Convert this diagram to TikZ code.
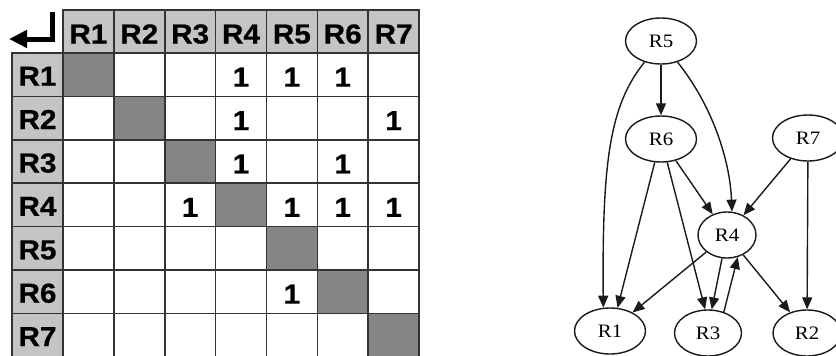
\documentclass[tikz,border=0pt]{standalone}
\usepackage{fontspec}
\setmainfont{Liberation Serif}
\newfontfamily\mxfont{Liberation Sans}[FakeStretch=1.08, BoldFeatures={FakeBold=0.6}]
\newfontfamily\gfont{Liberation Serif}[FakeStretch=1.1]
\usetikzlibrary{arrows.meta,shapes.geometric}
\definecolor{hdr}{HTML}{C4C4C4}
\definecolor{diag}{HTML}{858585}
\definecolor{gridc}{HTML}{333333}
\definecolor{edgec}{HTML}{1A1A1A}
\begin{document}
\begin{tikzpicture}[x=1pt,y=-1pt,
  mtext/.style={font=\mxfont\bfseries\fontsize{27.5}{28}\selectfont, text=black},
  hcell/.style={draw=gridc, line width=1.6pt, fill=hdr, minimum width=50.86pt, minimum height=43.4pt, inner sep=0pt, mtext, text height=24pt, text depth=0pt},
  lcell/.style={hcell, minimum width=51pt, text height=22pt},
  cell/.style={draw=gridc, line width=1.6pt, fill=white, minimum width=50.86pt, minimum height=43.4pt, inner sep=0pt},
  dcell/.style={cell, fill=diag},
  onetxt/.style={mtext, inner sep=0pt, yshift=-2.5pt},
  ell/.style={ellipse, draw=edgec, line width=1.4pt, minimum width=71pt, minimum height=46pt, inner sep=0pt, font=\gfont\fontsize{19}{19}\selectfont},
  arr/.style={draw=edgec, line width=1.4pt, -{Triangle[length=12pt,width=10pt]}}
]
\useasboundingbox (0,0) rectangle (836,356);
\fill[white] (0,0) rectangle (836,356);
% column headers
\foreach \j in {1,...,7}
  \node[hcell] (h\j) at ({63+(\j-0.5)*50.86}, 31.5) {R\j};
% row labels
\foreach \i in {1,...,7}
  \node[lcell] (l\i) at (37.5, {53+(\i-0.5)*43.4}) {R\i};
% cells
\foreach \i in {1,...,7}
  \foreach \j in {1,...,7} {
    \ifnum\i=\j
      \node[dcell] (c\i\j) at ({63+(\j-0.5)*50.86}, {53+(\i-0.5)*43.4}) {};
    \else
      \node[cell] (c\i\j) at ({63+(\j-0.5)*50.86}, {53+(\i-0.5)*43.4}) {};
    \fi
  }
% ones
\foreach \i/\j in {1/4,1/5,1/6,2/4,2/7,3/4,3/6,4/3,4/5,4/6,4/7,6/5}
  \node[onetxt] (o\i\j) at (c\i\j) {1};
% corner return arrow
\draw[line width=5pt, line join=miter, -{Triangle[length=18pt,width=17pt]}] (52.5,12) -- (52.5,39) -- (9,39);

% graph
\node[ell] (r5) at (661,41) {R5};
\node[ell] (r6) at (661,139) {R6};
\node[ell] (r7) at (808,138) {R7};
\node[ell, minimum width=58pt] (r4) at (727,235) {R4};
\node[ell] (r1) at (610,331) {R1};
\node[ell, minimum width=67pt] (r3) at (708,333) {R3};
\node[ell, minimum width=68pt] (r2) at (807,333) {R2};

\draw[arr] (r5) -- (r6);
\draw[arr] (r5.232) .. controls (610,105) and (602,160) .. (r1.106);
\draw[arr] (r5.-52) .. controls (712,105) and (730,160) .. (r4.78);
\draw[arr] (r6.-105) -- (r1.72);
\draw[arr] (r6.-75) -- (r3.97);
\draw[arr] (r6) -- (r4);
\draw[arr] (r7) -- (r4);
\draw[arr] (r7) -- (r2);
\draw[arr] (r4) -- (r1);
\draw[arr] (r4.-102) -- (r3.81);
\draw[arr] (r3.53) -- (r4.-64);
\draw[arr] (r4) -- (r2);
\end{tikzpicture}
\end{document}
